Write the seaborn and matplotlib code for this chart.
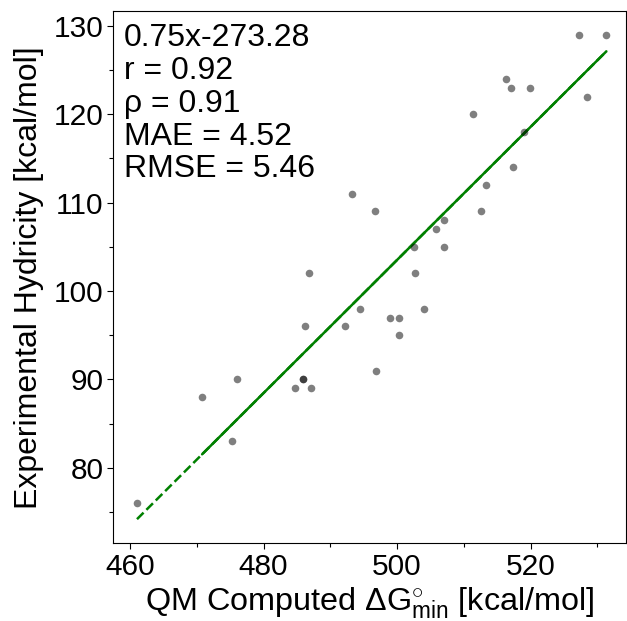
import numpy as np
import pandas as pd
import seaborn as sns
import matplotlib
matplotlib.use('Agg')
import matplotlib.pyplot as plt
from matplotlib.ticker import MultipleLocator

# Werte
qm_computed = [527.3, 531.35, 516.25, 517.1, 519.9, 528.5, 511.4, 519.0, 517.3,
               493.2, 513.3, 496.75, 512.6, 507.1, 505.8, 502.6, 507.0, 486.8,
               502.7, 494.4, 504.1, 486.2, 492.2, 499.0, 500.3, 500.3, 496.8,
               476.0, 485.9, 485.9, 484.7, 487.1, 470.8, 475.3, 461.05]
experimental = [129, 129, 124, 123, 123, 122, 120, 118, 114,
                111, 112, 109, 109, 108, 107, 105, 105, 102,
                102, 98, 98, 96, 96, 97, 97, 95, 91,
                90, 90, 90, 89, 89, 88, 83, 76]
stats_lines = ['0.75x-273.28', 'r = 0.92', 'ρ = 0.91', 'MAE = 4.52', 'RMSE = 5.46']

df = pd.DataFrame({'qm': qm_computed, 'exp': experimental})

sns.set_style('ticks', {'axes.edgecolor': 'black', 'text.color': 'black',
                        'axes.labelcolor': 'black', 'xtick.color': 'black',
                        'ytick.color': 'black'})
plt.rcParams['font.family'] = ['Liberation Sans', 'DejaVu Sans']
plt.rcParams['mathtext.fontset'] = 'custom'
plt.rcParams['mathtext.rm'] = 'Liberation Sans'
plt.rcParams['mathtext.it'] = 'Liberation Sans'

fig = plt.figure(figsize=(6.27, 6.21), dpi=100)
ax = fig.add_axes([0.1807, 0.125, 0.8178, 0.857])

sns.scatterplot(data=df, x='qm', y='exp', color='black', alpha=0.5, s=30,
                linewidth=0, ax=ax, zorder=3)

# Regressionsgerade
slope, intercept = np.polyfit(df['qm'], df['exp'], 1)
x_full = np.array([df['qm'].min(), df['qm'].max()])
x_solid = np.array([df['qm'].nsmallest(2).iloc[-1], df['qm'].max()])
ax.plot(x_full, slope * x_full + intercept, color='green', linestyle='--', lw=1.8, zorder=2)
ax.plot(x_solid, slope * x_solid + intercept, color='green', linestyle='-', lw=1.8, zorder=2)

ax.text(0.02, 0.977, '\n'.join(stats_lines), transform=ax.transAxes,
        ha='left', va='top', fontsize=23, linespacing=1.12)

ax.set_xlim(457.5, 534.3)
ax.set_ylim(71.45, 131.66)
ax.xaxis.set_major_locator(MultipleLocator(20))
ax.xaxis.set_minor_locator(MultipleLocator(10))
ax.yaxis.set_major_locator(MultipleLocator(10))
ax.yaxis.set_minor_locator(MultipleLocator(5))
ax.tick_params(axis='both', which='major', labelsize=21.5, length=4, width=0.8, pad=3)
ax.tick_params(axis='both', which='minor', length=3, width=0.8)

ax.set_xlabel(r'QM Computed $\Delta$G$^{\circ}_{\mathrm{min}}$ [kcal/mol]', fontsize=23.3, labelpad=3)
ax.set_ylabel('Experimental Hydricity [kcal/mol]', fontsize=23, labelpad=7)

fig.savefig('out.png', dpi=100)
